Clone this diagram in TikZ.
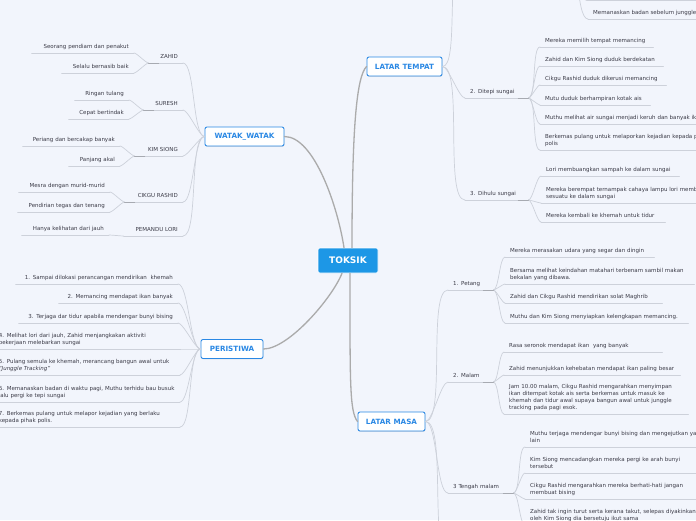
\documentclass[tikz,border=0pt]{standalone}
\usepackage{fontspec}
\newfontfamily\mapfont{DejaVu Sans}
\usepackage{tikz}
\usetikzlibrary{shadows}
\definecolor{bg}{HTML}{F2F5FC}
\definecolor{twiggray}{HTML}{CDD1DA}
\definecolor{trunkgray}{HTML}{ABABAB}
\definecolor{knotgray}{HTML}{A7AAB1}
\definecolor{mapblue}{HTML}{2A88E4}
\definecolor{rootblue}{HTML}{1D97E6}
\definecolor{ink}{HTML}{3B3B47}
\tikzset{
  every picture/.style={line join=round, line cap=round},
  root/.style={fill=rootblue, draw=white, line width=0.6pt, text=white, rounded corners=2pt,
    font=\mapfont\bfseries\fontsize{9}{11}\selectfont, minimum width=60pt, minimum height=25pt},
  branch/.style={fill=white, draw=mapblue, line width=0.9pt, text=mapblue, rounded corners=2pt,
    font=\mapfont\bfseries\fontsize{7.2}{9}\selectfont, minimum height=19pt,
    drop shadow={opacity=0.2, shadow xshift=0.4pt, shadow yshift=-0.8pt}},
  trunk/.style={draw=trunkgray, line width=1.3pt},
  twig/.style={draw=twiggray, line width=0.7pt},
  knot/.style={draw=knotgray, line width=0.9pt},
  leaf/.style={font=\mapfont\fontsize{5.5}{7}\selectfont, text=ink, inner xsep=5pt, inner ysep=2.2pt,
    execute at end node=\strut},
  leafL/.style={leaf, anchor=south east, align=right},
  leafR/.style={leaf, anchor=south west, align=left},
  fanL/.style={out=180, in=0, looseness=0.4},
  fanR/.style={out=0, in=180, looseness=0.4},
}

\begin{document}
\begin{tikzpicture}[x=1pt,y=-1pt]
\useasboundingbox (0,0) rectangle (696,520);
\clip (0,0) rectangle (696,520);
\fill[bg] (0,0) rectangle (696,520);

% centre and main branches
\node[root] (toksik) at (348,260.5) {TOKSIK};
\node[branch,minimum width=79pt] (watak) at (244.5,136.5) {WATAK\_WATAK};
\node[branch,minimum width=62pt] (peristiwa) at (232,349) {PERISTIWA};
\node[branch,minimum width=75pt] (tempat) at (404.5,66.5) {LATAR TEMPAT};
\node[branch,minimum width=67pt] (masa) at (391.5,421.5) {LATAR MASA};

\draw[trunk] ([xshift=-4pt]toksik.north) .. controls +(-6,-40) and +(30,0) .. (watak.east);
\draw[trunk] ([xshift=4pt]toksik.north) .. controls +(0,-120) and +(-10,10) .. (tempat.west);
\draw[trunk] ([xshift=-6pt]toksik.south) .. controls +(-10,25) and +(25,0) .. (peristiwa.east);
\draw[trunk] ([xshift=2pt]toksik.south) .. controls +(0,110) and +(-8,-10) .. (masa.west);

% watak_watak
\node[leafL,text width=24pt] (zahid) at (183,63) {ZAHID};
\node[leafL,text width=29pt] (suresh) at (183,110) {SURESH};
\node[leafL,text width=38pt] (kimsiong) at (183,156) {KIM SIONG};
\node[leafL,text width=48pt] (rashid) at (183,202) {CIKGU RASHID};
\node[leafL,text width=49pt] (pemandu) at (183,236) {PEMANDU LORI};
\node[leafL,text width=92pt] (zahid1) at (134,53) {Seorang pendiam dan penakut};
\node[leafL,text width=62pt] (zahid2) at (134,73) {Selalu bernasib baik};
\node[leafL,text width=44pt] (suresh1) at (129,100) {Ringan tulang};
\node[leafL,text width=50pt] (suresh2) at (129,119) {Cepat bertindak};
\node[leafL,text width=87pt] (kimsiong1) at (120,146) {Periang dan bercakap banyak};
\node[leafL,text width=41pt] (kimsiong2) at (120,166) {Panjang akal};
\node[leafL,text width=81pt] (rashid1) at (110,192) {Mesra dengan murid-murid};
\node[leafL,text width=82pt] (rashid2) at (110,212) {Pendirian tegas dan tenang};
\node[leafL,text width=77pt] (pemandu1) at (109,235) {Hanya kelihatan dari jauh};

\foreach \n in {zahid,suresh,kimsiong,rashid,pemandu,zahid1,zahid2,suresh1,suresh2,kimsiong1,kimsiong2,rashid1,rashid2,pemandu1}
  \draw[twig] (\n.south west) -- (\n.south east);
\foreach \n in {zahid,suresh,kimsiong,rashid,pemandu}
  \draw[twig] (watak.west) to[fanL] (\n.south east);
\foreach \p/\c in {zahid/zahid1,zahid/zahid2,suresh/suresh1,suresh/suresh2,kimsiong/kimsiong1,kimsiong/kimsiong2,rashid/rashid1,rashid/rashid2,pemandu/pemandu1}
  \draw[twig] (\p.south west) to[fanL] (\c.south east);
\foreach \n in {zahid,suresh,kimsiong,rashid}
  \draw[knot] (\n.south west) -- +(10,0);

% peristiwa
\node[leafL,text width=152pt] (p1) at (178,284) {1. Sampai dilokasi perancangan mendirikan\ \ khemah};
\node[leafL,text width=109pt] (p2) at (178,303) {2. Memancing mendapat ikan banyak};
\node[leafL,text width=149pt] (p3) at (178,323) {3. Terjaga dar tidur apabila mendengar bunyi bising};
\node[leafL,align=left,text width=176pt] (p4) at (180,349) {4. Melihat lori dari jauh, Zahid menjangkakan aktiviti\\pekerjaan melebarkan sungai};
\node[leafL,align=left,text width=176pt] (p5) at (180,375) {5. Pulang semula ke khemah, merancang bangun awal untuk\\\textit{“Junggle Tracking”}};
\node[leafL,align=left,text width=176pt] (p6) at (180,402) {6. Memanaskan badan di waktu pagi, Muthu terhidu bau busuk\\lalu pergi ke tepi sungai};
\node[leafL,align=left,text width=176pt] (p7) at (180,427) {7. Berkemas pulang untuk melapor kejadian yang berlaku\\kepada pihak polis.};
\foreach \n in {p1,p2,p3,p4,p5,p6,p7} {
  \draw[twig] (\n.south west) -- (\n.south east);
  \draw[twig] (peristiwa.west) to[fanL] (\n.south east);
}

% latar tempat
\coordinate (tempat1) at (462,-40);
\coordinate (tempat1k) at (566,-60);
\coordinate (tempat1b) at (587,0.5);
\coordinate (tempat1be) at (700,0.5);
\node[leafR,text width=200pt] (tempat1c) at (588,19) {Memanaskan badan sebelum junggle tracking};
\node[leafR,text width=53pt] (ditepi) at (465,98) {2. Ditepi sungai};
\node[leafR,text width=53pt] (dihulu) at (465,200) {3. Dihulu sungai};
\node[leafR,text width=103pt] (ditepi1) at (540,47) {Mereka memilih tempat memancing};
\node[leafR,text width=113pt] (ditepi2) at (540,66) {Zahid dan Kim Siong duduk berdekatan};
\node[leafR,text width=116pt] (ditepi3) at (540,85) {Cikgu Rashid duduk dikerusi memancing};
\node[leafR,text width=100pt] (ditepi4) at (540,105) {Mutu duduk berhampiran kotak ais};
\node[leafR,text width=200pt] (ditepi5) at (540,124) {Muthu melihat air sungai menjadi keruh dan banyak ikan};
\node[leafR,text width=200pt] (ditepi6) at (540,150) {Berkemas pulang untuk melaporkan kejadian kepada pihak\\polis};
\node[leafR,text width=128pt] (dihulu1) at (541,176) {Lori membuangkan sampah ke dalam sungai};
\node[leafR,text width=200pt] (dihulu2) at (541,203) {Mereka berempat ternampak cahaya lampu lori membuang\\sesuatu ke dalam sungai};
\node[leafR,text width=114pt] (dihulu3) at (541,222) {Mereka kembali ke khemah untuk tidur};

\draw[twig] (tempat.east) to[fanR] (tempat1);
\draw[twig] (tempat1b) -- (tempat1be);
\draw[twig] (tempat1k) to[fanR] (tempat1b);
\draw[twig] (tempat1k) to[fanR] (tempat1c.south west);
\foreach \n in {tempat1c,ditepi,dihulu,ditepi1,ditepi2,ditepi3,ditepi4,ditepi5,ditepi6,dihulu1,dihulu2,dihulu3}
  \draw[twig] (\n.south west) -- (\n.south east);
\foreach \n in {ditepi,dihulu}
  \draw[twig] (tempat.east) to[fanR] (\n.south west);
\foreach \p/\c in {ditepi/ditepi1,ditepi/ditepi2,ditepi/ditepi3,ditepi/ditepi4,ditepi/ditepi5,ditepi/ditepi6,dihulu/dihulu1,dihulu/dihulu2,dihulu/dihulu3}
  \draw[twig] (\p.south east) to[fanR] (\c.south west);

% latar masa
\coordinate (masa4) at (450,560);
\node[leafR,text width=35pt] (petang) at (448,290) {1. Petang};
\node[leafR,text width=35pt] (malam) at (448,382) {2. Malam};
\node[leafR,text width=55pt] (tengah) at (448,493) {3 Tengah malam};
\node[leafR,text width=139pt] (petang1) at (505,257) {Mereka merasakan udara yang segar dan dingin};
\node[leafR,text width=179pt] (petang2) at (505,284) {Bersama melihat keindahan matahari terbenam sambil makan\\bekalan yang dibawa.};
\node[leafR,text width=147pt] (petang3) at (505,303) {Zahid dan Cikgu Rashid mendirikan solat Maghrib};
\node[leafR,text width=173pt] (petang4) at (505,323) {Muthu dan Kim Siong menyiapkan kelengkapan memancing.};
\node[leafR,text width=148pt] (malam1) at (504,352) {Rasa seronok mendapat ikan\ \ yang banyak};
\node[leafR,text width=166pt] (malam2) at (504,375) {Zahid menunjukkan kehebatan mendapat ikan paling besar};
\node[leafR,text width=174pt] (malam3) at (504,414) {Jam 10.00 malam, Cikgu Rashid mengarahkan menyimpan\\ikan ditempat kotak ais serta berkemas untuk masuk ke\\khemah dan tidur awal supaya bangun awal untuk junggle\\tracking pada pagi esok.};
\node[leafR,text width=200pt] (tengah1) at (525,447) {Muthu terjaga mendengar bunyi bising dan mengejutkan yang\\lain};
\node[leafR,text width=200pt] (tengah2) at (525,473) {Kim Siong mencadangkan mereka pergi ke arah bunyi\\tersebut};
\node[leafR,text width=200pt] (tengah3) at (525,499) {Cikgu Rashid mengarahkan mereka berhati-hati jangan\\membuat bising};
\node[leafR,text width=200pt] (tengah4) at (525,525) {Zahid tak ingin turut serta kerana takut, selepas diyakinkan\\oleh Kim Siong dia bersetuju ikut sama};

\draw[twig] (masa.east) to[fanR] (masa4);
\foreach \n in {petang,malam,tengah,petang1,petang2,petang3,petang4,malam1,malam2,malam3,tengah1,tengah2,tengah3,tengah4}
  \draw[twig] (\n.south west) -- (\n.south east);
\foreach \n in {petang,malam,tengah}
  \draw[twig] (masa.east) to[fanR] (\n.south west);
\foreach \p/\c in {petang/petang1,petang/petang2,petang/petang3,petang/petang4,malam/malam1,malam/malam2,malam/malam3,tengah/tengah1,tengah/tengah2,tengah/tengah3,tengah/tengah4}
  \draw[twig] (\p.south east) to[fanR] (\c.south west);
\foreach \n in {ditepi,dihulu,petang,malam,tengah}
  \draw[knot] (\n.south east) -- +(-10,0);
\end{tikzpicture}
\end{document}
